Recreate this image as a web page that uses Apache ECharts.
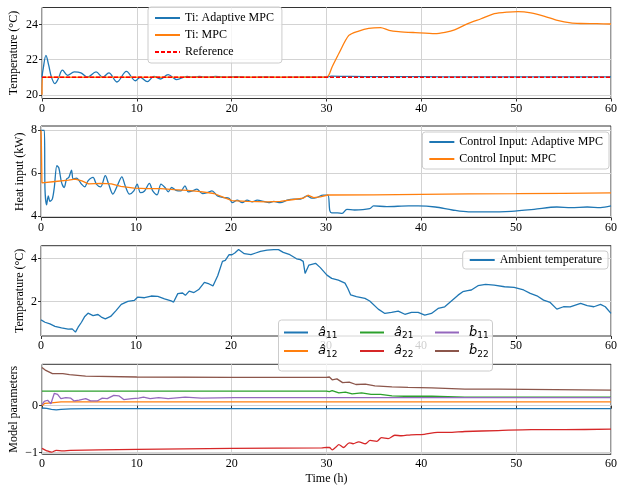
<!DOCTYPE html>
<html>
<head>
<meta charset="utf-8">
<script src="https://cdn.jsdelivr.net/npm/echarts@6/dist/echarts.min.js"></script>
<style>html,body{margin:0;padding:0;background:#fff}#c{width:620px;height:487px}</style>
</head>
<body>
<div id="c"></div>
<script>
// ---- Data (time in hours, value) ----
const tiAdaptive = [[0,21.0],[0.1,21.4],[0.42,22.25],[0.7,21.7],[1.0,21.0],[1.36,20.64],[1.7,20.9],[2.16,21.4],[2.7,21.11],[3.4,21.3],[4.1,21.25],[4.8,21.0],[5.7,21.3],[6.4,21.0],[7.05,21.25],[7.9,20.73],[8.9,21.33],[9.85,20.8],[10.35,21.0],[11.1,20.75],[11.8,21.05],[12.5,20.9],[13.3,21.15],[14.2,20.87],[15.3,21.05],[15.9,21.0],[16.6,21.05],[17.4,21.0],[18.3,21.05],[19.4,21.0],[20.5,21.03],[22,20.99],[23.5,21.02],[25,20.99],[27,21.01],[29,21.0],[30,21.0],[30.5,21.06],[32,21.05],[34,21.04],[36,21.04],[40,21.03],[45,21.02],[50,21.02],[55,21.02],[60,21.02]];
const tiMPC = [[0,20.0],[0.12,21.0],[10,21.0],[20,21.0],[30.0,21.0],[30.6,21.6],[31.3,22.35],[32.35,23.38],[33.4,23.63],[34.45,23.78],[35.7,23.82],[36.6,23.67],[37.6,23.6],[39.35,23.54],[41.45,23.48],[42.5,23.56],[43.5,23.7],[44.9,24.05],[46.3,24.33],[47.7,24.62],[49.1,24.71],[50.2,24.73],[51.55,24.66],[53.0,24.47],[54.35,24.24],[55.75,24.09],[56.8,24.06],[58.5,24.05],[60,24.03]];
const tiReference = [[0,21.0],[60,21.0]];

const uAdaptive = [[0,8],[0.35,8],[0.42,5.25],[0.59,4.52],[0.77,4.94],[0.94,4.68],[1.19,4.79],[1.4,5.33],[1.67,6.35],[1.88,6.24],[2.16,5.57],[2.44,5.33],[2.69,5.72],[2.93,5.8],[3.21,6.14],[3.39,5.72],[3.74,5.77],[4.26,5.49],[4.6,5.36],[4.95,5.64],[5.48,5.8],[5.83,5.49],[6.28,5.36],[6.77,5.88],[7.12,5.49],[7.57,5.02],[8.03,5.41],[8.51,5.83],[8.86,5.41],[9.32,5.02],[9.77,5.17],[10.12,5.49],[10.47,5.09],[10.9,5.17],[11.41,5.52],[11.76,5.17],[12.22,4.99],[12.63,5.49],[13.05,5.33],[13.4,5.13],[13.75,5.33],[14.2,5.2],[14.73,5.17],[15.15,5.41],[15.5,5.13],[15.95,5.17],[16.4,5.25],[17.0,5.05],[17.5,5.09],[18.0,5.17],[18.57,4.94],[19.26,4.86],[19.79,4.83],[20.14,4.62],[20.66,4.74],[21.18,4.62],[21.7,4.74],[22.23,4.66],[22.75,4.74],[23.45,4.68],[23.97,4.62],[24.5,4.68],[25.2,4.62],[25.9,4.74],[26.6,4.79],[27.3,4.79],[28.0,4.94],[28.5,4.83],[29.0,4.86],[29.7,4.97],[30.2,4.97],[30.4,4.25],[30.6,4.15],[31.2,4.15],[31.7,4.12],[32.2,4.31],[33.0,4.28],[34.6,4.34],[35.0,4.47],[36.4,4.44],[38.7,4.47],[39.7,4.47],[41.5,4.42],[43.3,4.28],[45.0,4.19],[47.0,4.19],[49.5,4.22],[51.9,4.31],[54.3,4.42],[55.8,4.39],[57.5,4.42],[58.9,4.39],[60,4.47]];
const uMPC = [[0,8],[0.03,7.6],[0.08,7.6],[0.1,5.55],[1.5,5.61],[2.9,5.67],[3.6,5.72],[4.3,5.64],[5.0,5.5],[6.3,5.52],[7.4,5.5],[8.4,5.38],[9.8,5.3],[11.2,5.28],[12.6,5.28],[14.0,5.23],[15.4,5.2],[16.8,5.14],[18.2,5.05],[19.3,4.86],[20.1,4.72],[21.7,4.68],[23.8,4.66],[25.2,4.68],[26.6,4.77],[27.6,4.83],[28.1,4.97],[28.7,4.86],[29.4,4.89],[30.2,4.98],[35,4.99],[40,5.01],[45,5.03],[50,5.04],[55,5.06],[60,5.08]];

const ambient = [[0,1.14],[0.42,1.03],[0.94,0.95],[1.47,0.84],[2.16,0.77],[2.86,0.71],[3.28,0.72],[3.63,0.57],[3.91,0.8],[4.26,1.03],[4.61,1.3],[4.95,1.45],[5.48,1.34],[6.0,1.39],[6.35,1.27],[6.77,1.19],[7.33,1.3],[7.92,1.58],[8.45,1.86],[9.14,2.0],[9.84,2.05],[10.19,2.2],[10.9,2.17],[11.6,2.25],[12.3,2.23],[13.0,2.12],[13.7,2.02],[13.96,1.97],[14.4,2.36],[14.9,2.39],[15.2,2.28],[15.6,2.48],[16.1,2.41],[16.6,2.55],[17.2,2.88],[17.7,2.81],[18.1,2.72],[18.6,3.19],[19.1,3.86],[19.4,3.91],[19.8,4.17],[20.1,4.17],[20.4,4.25],[20.8,4.41],[21.4,4.22],[22.1,4.17],[22.6,4.25],[23.1,4.33],[23.8,4.38],[24.5,4.41],[25.0,4.41],[25.5,4.28],[26.2,4.17],[26.9,3.98],[27.3,3.94],[27.6,3.86],[27.8,3.3],[28.2,3.69],[28.9,3.77],[29.4,3.57],[30.1,3.22],[30.6,3.07],[31.3,2.99],[32.0,2.85],[32.3,2.6],[32.6,2.3],[33.2,2.22],[34.1,2.14],[34.6,2.02],[35.5,1.64],[36.2,1.44],[36.9,1.49],[37.6,1.55],[38.3,1.4],[39.0,1.49],[39.7,1.49],[40.4,1.36],[41.1,1.44],[41.8,1.67],[42.5,1.75],[43.2,2.02],[43.9,2.29],[44.4,2.45],[44.9,2.5],[45.3,2.53],[46.0,2.73],[46.8,2.79],[47.7,2.76],[48.8,2.68],[49.8,2.65],[50.8,2.53],[51.5,2.37],[52.2,2.26],[52.9,2.06],[53.6,1.95],[54.3,1.64],[55.0,1.75],[55.7,1.74],[56.8,1.91],[57.5,1.8],[58.2,1.75],[58.9,1.86],[59.4,1.75],[60,1.44]];

const a11 = [[0,-0.05],[0.5,-0.06],[1,-0.08],[1.5,-0.09],[2,-0.08],[3,-0.07],[5,-0.065],[10,-0.065],[30,-0.065],[60,-0.065]];
const a12 = [[0,0.0],[0.3,0.05],[1,0.06],[2,0.08],[10,0.08],[30,0.08],[60,0.08]];
const a21 = [[0,0.31],[30,0.31],[30.3,0.30],[30.6,0.32],[31.3,0.27],[32,0.29],[32.7,0.25],[33.7,0.27],[34.7,0.24],[35.7,0.24],[36.9,0.21],[38.2,0.2],[41.1,0.2],[42.8,0.19],[44.6,0.18],[60,0.18]];
const a22 = [[0,-0.91],[0.5,-0.96],[1,-0.99],[1.5,-0.95],[2.2,-0.96],[3,-0.95],[6,-0.94],[10,-0.93],[20,-0.91],[29.5,-0.90],[30,-0.89],[30.3,-0.89],[30.6,-0.94],[31,-0.88],[31.3,-0.83],[31.8,-0.89],[32.4,-0.79],[32.8,-0.81],[33.4,-0.77],[34.1,-0.81],[34.6,-0.74],[35.3,-0.76],[35.8,-0.68],[36.5,-0.7],[37.2,-0.63],[37.9,-0.64],[38.9,-0.62],[40.3,-0.61],[41.7,-0.57],[42.8,-0.57],[44.6,-0.55],[48.1,-0.53],[51.6,-0.51],[55.1,-0.51],[60,-0.50]];
const b11 = [[0,0.02],[0.24,0.09],[0.59,0.115],[0.94,0.04],[1.29,0.26],[1.64,0.24],[1.99,0.15],[2.51,0.17],[3.04,0.16],[3.39,0.1],[3.91,0.12],[4.61,0.15],[5.13,0.1],[5.83,0.1],[6.35,0.16],[6.88,0.15],[7.57,0.22],[8.1,0.21],[8.62,0.13],[9.49,0.15],[10.19,0.16],[10.7,0.18],[11.4,0.15],[12.3,0.17],[13.3,0.15],[15.1,0.18],[16.8,0.16],[20.3,0.17],[30,0.17],[60,0.17]];
const b22 = [[0,0.81],[0.4,0.75],[1.1,0.68],[2.2,0.68],[2.9,0.66],[4.6,0.63],[10,0.61],[20,0.60],[30,0.60],[30.3,0.61],[30.6,0.55],[31.1,0.57],[31.7,0.49],[32.4,0.5],[33.1,0.45],[34.1,0.46],[35.1,0.42],[36.9,0.40],[38.6,0.39],[41.1,0.38],[44.6,0.35],[48.1,0.35],[60,0.33]];

const xTicks = [0,10,20,30,40,50,60];
const yTicks1 = [20,22,24];
const yTicks2 = [4,6,8];
const yTicks3 = [2,4];
const yTicks4 = [-1,0];

// ---- Styling ----
const FONT = 'Liberation Serif';
const C = {blue:'#1f77b4', orange:'#ff7f0e', green:'#2ca02c', red:'#d62728', purple:'#9467bd', brown:'#8c564b'};
const grids = [
  {top:7.5, height:91},
  {top:126, height:91.5},
  {top:245.7, height:90.3},
  {top:364.3, height:90}
];
const yRanges = [[19.79,24.97],[3.93,8.2],[0.39,4.59],[-1.035,0.88]];
const yTickSets = [yTicks1,yTicks2,yTicks3,yTicks4];
const yNames = ['Temperature (°C)','Heat input (kW)','Temperature (°C)','Model parameters'];
const yNameGaps = [22,15,15,22];

const grid = grids.map(g => ({left:41, right:6, top:g.top, height:g.height, show:true, borderColor:'#333', borderWidth:1, backgroundColor:'transparent'}));

const xAxis = grids.map((g,i) => ({
  type:'value', gridIndex:i, min:0, max:60, interval:10,
  axisLine:{show:false},
  axisTick:{show:true, inside:false, length:3, lineStyle:{color:'#333'}, customValues:xTicks},
  axisLabel:{fontFamily:FONT, fontSize:12, color:'#000', margin:4, customValues:xTicks},
  splitLine:{show:true, lineStyle:{color:'#d3d3d3', width:1}},
  name: i===3 ? 'Time (h)' : '', nameLocation:'middle', nameGap:19, nameMoveOverlap:false,
  nameTextStyle:{fontFamily:FONT, fontSize:12, color:'#000'}
}));

const yAxis = grids.map((g,i) => ({
  type:'value', gridIndex:i, min:yRanges[i][0], max:yRanges[i][1],
  axisLine:{show:false},
  axisTick:{show:true, length:3, lineStyle:{color:'#333'}, customValues:yTickSets[i]},
  axisLabel:{fontFamily:FONT, fontSize:12, color:'#000', margin:4, customValues:yTickSets[i],
    formatter: v => String(v).replace('-', '\u2212')},
  splitLine:{show:true, lineStyle:{color:'#d3d3d3', width:1}},
  name:yNames[i], nameLocation:'middle', nameGap:yNameGaps[i], nameRotate:90, nameMoveOverlap:false,
  nameTextStyle:{fontFamily:FONT, fontSize:12, color:'#000'}
}));

function line(name, data, color, gi, extra) {
  return Object.assign({
    name, type:'line', data, xAxisIndex:gi, yAxisIndex:gi,
    symbol:'none', showSymbol:false, animation:false,
    lineStyle:{color, width:1.3}, itemStyle:{color}
  }, extra||{});
}

const series = [
  line('Ti: Adaptive MPC', tiAdaptive, C.blue, 0, {smooth:0.35}),
  line('Ti: MPC', tiMPC, C.orange, 0, {smooth:0.25}),
  line('Reference', tiReference, '#ff0000', 0, {lineStyle:{color:'#ff0000', width:1.3, type:[4,2]}}),
  line('Control Input: Adaptive MPC', uAdaptive, C.blue, 1, {smooth:0.3}),
  line('Control Input: MPC', uMPC, C.orange, 1),
  line('Ambient temperature', ambient, C.blue, 2),
  line('a11', a11, C.blue, 3),
  line('a12', a12, C.orange, 3),
  line('a21', a21, C.green, 3),
  line('a22', a22, C.red, 3, {smooth:0.3}),
  line('b11', b11, C.purple, 3),
  line('b22', b22, C.brown, 3)
];

const legendBase = {
  backgroundColor:'rgba(255,255,255,0.8)', borderColor:'#cccccc', borderWidth:1, borderRadius:3,
  itemWidth:25, itemHeight:12, z:10,
  itemStyle:{opacity:0},
  textStyle:{fontFamily:FONT, fontSize:12, color:'#000'}
};
const paramLabels = {a11:['â','11'], a12:['â','12'], a21:['â','21'], a22:['â','22'], b11:['b̂','11'], b22:['b̂','22']};
const paramLegend = (names, left) => ({
  data:names, orient:'vertical', left:left, top:326, padding:0, itemGap:4, itemWidth:24, itemHeight:16, z:10,
  itemStyle:{opacity:0},
  formatter: n => '{i|' + paramLabels[n][0] + '}{s|' + paramLabels[n][1] + '}',
  textStyle:{fontFamily:'DejaVu Sans', fontSize:13, color:'#000', padding:[0,0,0,5],
    rich:{i:{fontFamily:'DejaVu Sans', fontSize:13, fontStyle:'italic', color:'#000', lineHeight:16},
          s:{fontFamily:'DejaVu Sans', fontSize:9, color:'#000', lineHeight:16, verticalAlign:'bottom'}}}
});
const legend = [
  Object.assign({}, legendBase, {data:['Ti: Adaptive MPC','Ti: MPC','Reference'], orient:'vertical', left:148, top:7, padding:[5,8,5,6], itemGap:5}),
  Object.assign({}, legendBase, {data:['Control Input: Adaptive MPC','Control Input: MPC'], orient:'vertical', right:11, top:132, padding:[4,6,4,6], itemGap:5}),
  Object.assign({}, legendBase, {data:['Ambient temperature'], orient:'vertical', right:12, top:251, padding:[3,6,3,6]}),
  paramLegend(['a11','a12'], 283),
  paramLegend(['a21','a22'], 359),
  paramLegend(['b11','b22'], 434)
];

const graphic = [{
  type:'rect', left:278, top:319.5, z:9, silent:true,
  shape:{width:214, height:51, r:3},
  style:{fill:'rgba(255,255,255,0.8)', stroke:'#cccccc', lineWidth:1}
}];

const chart = echarts.init(document.getElementById('c'), null, {renderer:'canvas'});
chart.setOption({animation:false, grid, xAxis, yAxis, series, legend, graphic});
</script>
</body>
</html>
